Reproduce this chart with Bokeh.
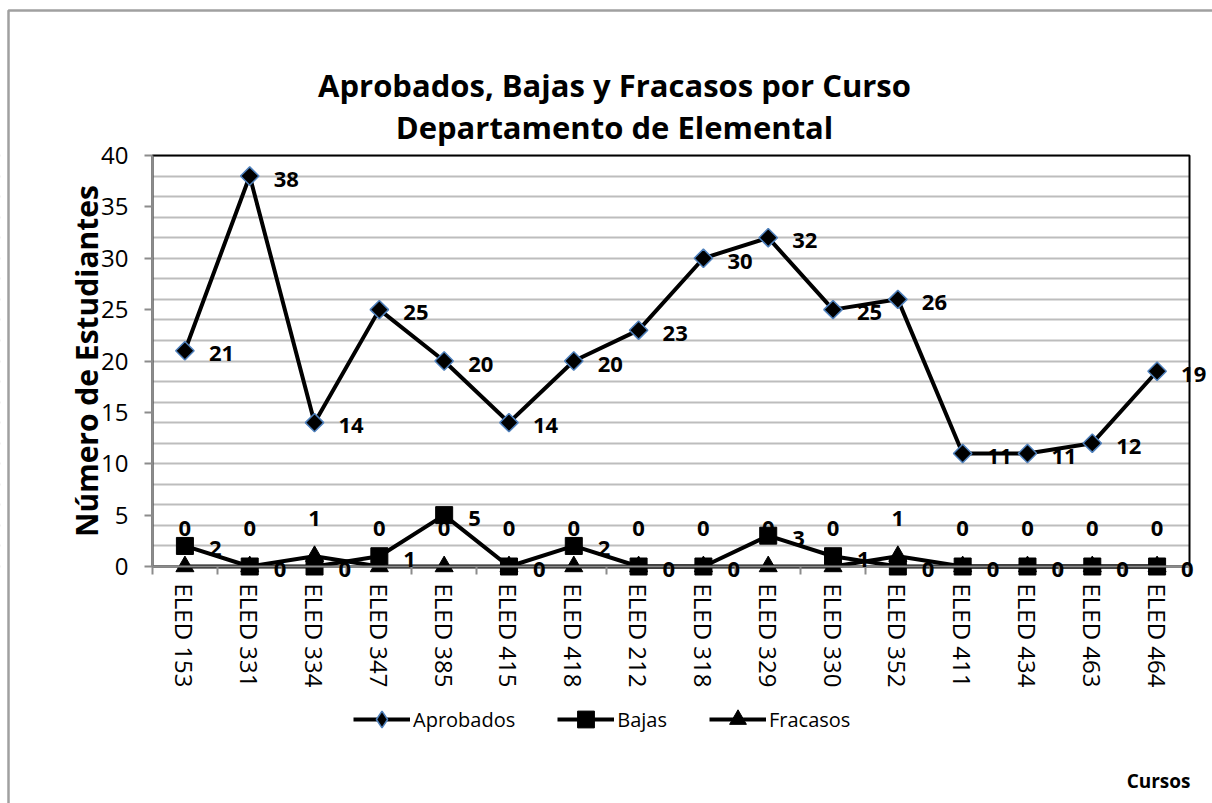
import math
from bokeh.plotting import figure
from bokeh.models import (Range1d, FixedTicker, LabelSet, Label, ColumnDataSource,
                          Legend, LegendItem, BoxAnnotation)
from bokeh.core.properties import value
from bokeh.embed import file_html
from bokeh.resources import INLINE

cursos = ["ELED 153", "ELED 331", "ELED 334", "ELED 347", "ELED 385", "ELED 415",
          "ELED 418", "ELED 212", "ELED 318", "ELED 329", "ELED 330", "ELED 352",
          "ELED 411", "ELED 434", "ELED 463", "ELED 464"]
aprobados = [21, 38, 14, 25, 20, 14, 20, 23, 30, 32, 25, 26, 11, 11, 12, 19]
bajas = [2, 0, 0, 1, 5, 0, 2, 0, 0, 3, 1, 0, 0, 0, 0, 0]
fracasos = [0, 0, 1, 0, 0, 0, 0, 0, 0, 0, 0, 1, 0, 0, 0, 0]
y_ticks = [0, 5, 10, 15, 20, 25, 30, 35, 40]
grid_ticks = list(range(0, 41, 2))

titulo1 = "Aprobados, Bajas y Fracasos por Curso"
titulo2 = "Departamento de Elemental"
eje_y = "Número de Estudiantes"
eje_x = "Cursos"

FONT = "Open Sans"
n = len(cursos)
idx = list(range(n))
x0, x1 = -0.5, n - 0.5      # plot-area edges (categories)
y0, y1 = 0, 40              # plot-area edges (values)

W, H = 1212, 803
# plot area in pixels: left 152, right 1189, top 155, bottom 566
px_per_x = (1189 - 152) / n
px_per_y = (566 - 155) / (y1 - y0)
xr = Range1d(x0 - 152 / px_per_x, x0 + (W - 152) / px_per_x)
yr = Range1d(y0 - (H - 566) / px_per_y, y1 + 155 / px_per_y)


def dx(px):
    return xr.start + px / px_per_x


def dy(py):
    return yr.end - py / px_per_y


src = ColumnDataSource(dict(
    x=idx, a=aprobados, b=bajas, f=fracasos,
    at=[str(v) for v in aprobados], bt=[str(v) for v in bajas], ft=[str(v) for v in fracasos],
))

p = figure(width=W, height=H, output_backend="svg", toolbar_location=None,
           x_range=xr, y_range=yr, min_border=0, title=None)
p.outline_line_color = None
p.background_fill_color = "white"
p.border_fill_color = "white"

# grid
p.xgrid.visible = False
p.ygrid.ticker = FixedTicker(ticks=grid_ticks)
p.ygrid.grid_line_color = "#bdbdbd"
p.ygrid.grid_line_width = 2

# keep grid lines inside the plot area
for kw in (dict(right=x0), dict(left=x1), dict(top=y0), dict(bottom=y1)):
    p.add_layout(BoxAnnotation(fill_color="white", fill_alpha=1, line_color=None,
                               level="underlay", **kw))
# plot area border (top / right black)
p.add_layout(BoxAnnotation(left=x0, right=x1, bottom=y0, top=y1, fill_alpha=0,
                           line_color="black", line_alpha=1, line_width=2,
                           level="glyph"))
# chart area border (left / top grey)
p.add_layout(BoxAnnotation(left=dx(8), right=xr.end + 5, top=dy(10), bottom=yr.start - 5,
                           fill_alpha=0, line_color="#a0a0a0", line_alpha=1, line_width=2.5,
                           level="glyph"))

# x axis
xa = p.xaxis[0]
xa.fixed_location = 0
xa.bounds = (x0, x1)
xa.ticker = FixedTicker(ticks=idx, minor_ticks=[i - 0.5 for i in range(n + 1)])
xa.major_label_overrides = {i: c for i, c in enumerate(cursos)}
xa.major_label_orientation = -math.pi / 2
xa.major_tick_line_color = None
xa.major_tick_out = 0
xa.major_tick_in = 0
xa.minor_tick_out = 8
xa.minor_tick_in = 0
xa.minor_tick_line_color = "#8c8c8c"
xa.minor_tick_line_width = 2
xa.axis_line_color = "#8c8c8c"
xa.axis_line_width = 2
xa.major_label_standoff = 9
xa.major_label_text_font = FONT
xa.major_label_text_font_size = "24px"
xa.major_label_text_color = "black"

# y axis
ya = p.yaxis[0]
ya.fixed_location = x0
ya.bounds = (y0, y1)
ya.ticker = FixedTicker(ticks=y_ticks)
ya.minor_tick_line_color = None
ya.major_tick_out = 8
ya.major_tick_in = 0
ya.major_tick_line_color = "#8c8c8c"
ya.major_tick_line_width = 2
ya.axis_line_color = "#8c8c8c"
ya.axis_line_width = 2
ya.major_label_text_font = FONT
ya.major_label_text_font_size = "24px"
ya.major_label_text_color = "black"
ya.major_label_standoff = 16
ya.axis_label = eje_y
ya.axis_label_text_font = FONT
ya.axis_label_text_font_style = "bold"
ya.axis_label_text_font_size = "30px"
ya.axis_label_text_color = "black"
ya.axis_label_standoff = -9

# series
la = p.line("x", "a", source=src, line_color="black", line_width=4)
# small diamond hidden under the rotated square: gives the legend its diamond symbol
sa_leg = p.scatter("x", "a", source=src, marker="diamond", size=10,
                   fill_color="black", line_color="#4f81bd", line_width=1.5)
sa = p.scatter("x", "a", source=src, marker="square", size=13, angle=math.pi / 4,
               fill_color="black", line_color="#4f81bd", line_width=1.5)
lf = p.line("x", "f", source=src, line_color="black", line_width=4)
sf = p.scatter("x", "f", source=src, marker="triangle", size=18,
               fill_color="black", line_color="black")
lb = p.line("x", "b", source=src, line_color="black", line_width=4)
sb = p.scatter("x", "b", source=src, marker="square", size=17,
               fill_color="black", line_color="black")

common = dict(text_font=value(FONT), text_font_style="bold", text_font_size="22px",
              text_color="black", text_baseline="middle")
p.add_layout(LabelSet(x="x", y="a", text="at", source=src, x_offset=24, y_offset=-3,
                      text_align="left", **common))
p.add_layout(LabelSet(x="x", y="b", text="bt", source=src, x_offset=24, y_offset=-3,
                      text_align="left", **common))
p.add_layout(LabelSet(x="x", y="f", text="ft", source=src, x_offset=0, y_offset=38,
                      text_align="center", **common))

# titles
tstyle = dict(text_font=FONT, text_font_style="bold", text_color="black",
              text_baseline="middle")
p.add_layout(Label(x=dx(614), y=dy(84), text=titulo1, text_align="center",
                   text_font_size="31px", **tstyle))
p.add_layout(Label(x=dx(614), y=dy(126), text=titulo2, text_align="center",
                   text_font_size="31px", **tstyle))
p.add_layout(Label(x=dx(1190), y=dy(780), text=eje_x, text_align="right",
                   text_font_size="19px", **tstyle))

legend = Legend(items=[LegendItem(label="Aprobados", renderers=[la, sa_leg]),
                       LegendItem(label="Bajas", renderers=[lb, sb]),
                       LegendItem(label="Fracasos", renderers=[lf, sf])],
                orientation="horizontal", location=(353, H - 740),
                glyph_width=57, glyph_height=42, label_standoff=3, spacing=42,
                padding=0, margin=0, border_line_color=None, background_fill_alpha=0,
                label_text_font=FONT, label_text_font_size="20px", label_text_color="black")
p.add_layout(legend, "center")

open("out.html", "w").write(file_html(p, INLINE))
